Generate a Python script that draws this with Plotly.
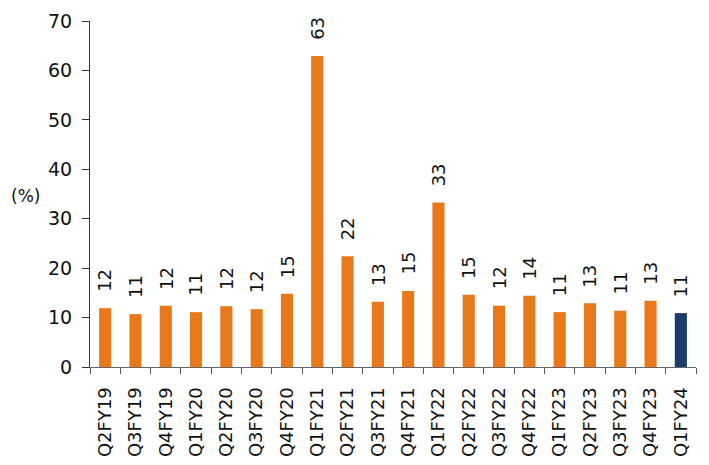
import plotly.graph_objects as go

categories = ["Q2FY19", "Q3FY19", "Q4FY19", "Q1FY20", "Q2FY20", "Q3FY20", "Q4FY20",
              "Q1FY21", "Q2FY21", "Q3FY21", "Q4FY21", "Q1FY22", "Q2FY22", "Q3FY22",
              "Q4FY22", "Q1FY23", "Q2FY23", "Q3FY23", "Q4FY23", "Q1FY24"]
values = [11.9, 10.7, 12.4, 11.1, 12.3, 11.7, 14.8, 62.9, 22.4, 13.2, 15.4, 33.3,
          14.6, 12.4, 14.4, 11.1, 12.9, 11.4, 13.4, 10.9]
labels = ["12", "11", "12", "11", "12", "12", "15", "63", "22", "13", "15", "33",
          "15", "12", "14", "11", "13", "11", "13", "11"]

orange = "#E8791A"
navy = "#1B3D6B"
colors = [orange] * (len(categories) - 1) + [navy]

font_family = "DejaVu Sans, Verdana, sans-serif"

fig = go.Figure(go.Bar(
    x=categories, y=values,
    marker=dict(color=colors, line=dict(width=0)), cliponaxis=False,
))

for c, v, t in zip(categories, values, labels):
    fig.add_annotation(x=c, y=v, text=t, textangle=-90, showarrow=False,
                       xanchor="center", yanchor="bottom", yshift=14,
                       font=dict(size=18, color="#111111", family=font_family))

fig.update_layout(
    width=709, height=465, margin=dict(l=90, r=13, t=21, b=98),
    plot_bgcolor="white", paper_bgcolor="white", bargap=0.6, showlegend=False,
    font=dict(family=font_family, size=18, color="#111111"),
)
fig.update_yaxes(range=[0, 70], dtick=10, showgrid=False, showline=True, linecolor="#333333",
                 linewidth=1, ticks="outside", ticklen=7, tickcolor="#333333", zeroline=False,
                 tickfont=dict(size=19), ticklabelstandoff=6, automargin=False)
fig.update_xaxes(showgrid=False, showline=True, linecolor="#666666", linewidth=1,
                 ticks="outside", ticklen=6, tickcolor="#555555", tickson="boundaries",
                 tickangle=-90, tickfont=dict(size=18), ticklabelstandoff=12, automargin=False)
fig.add_annotation(text="(%)", xref="paper", yref="paper", x=-0.106, y=0.494,
                   showarrow=False, font=dict(size=17), xanchor="center", yanchor="middle")

fig.write_html("out.html")
